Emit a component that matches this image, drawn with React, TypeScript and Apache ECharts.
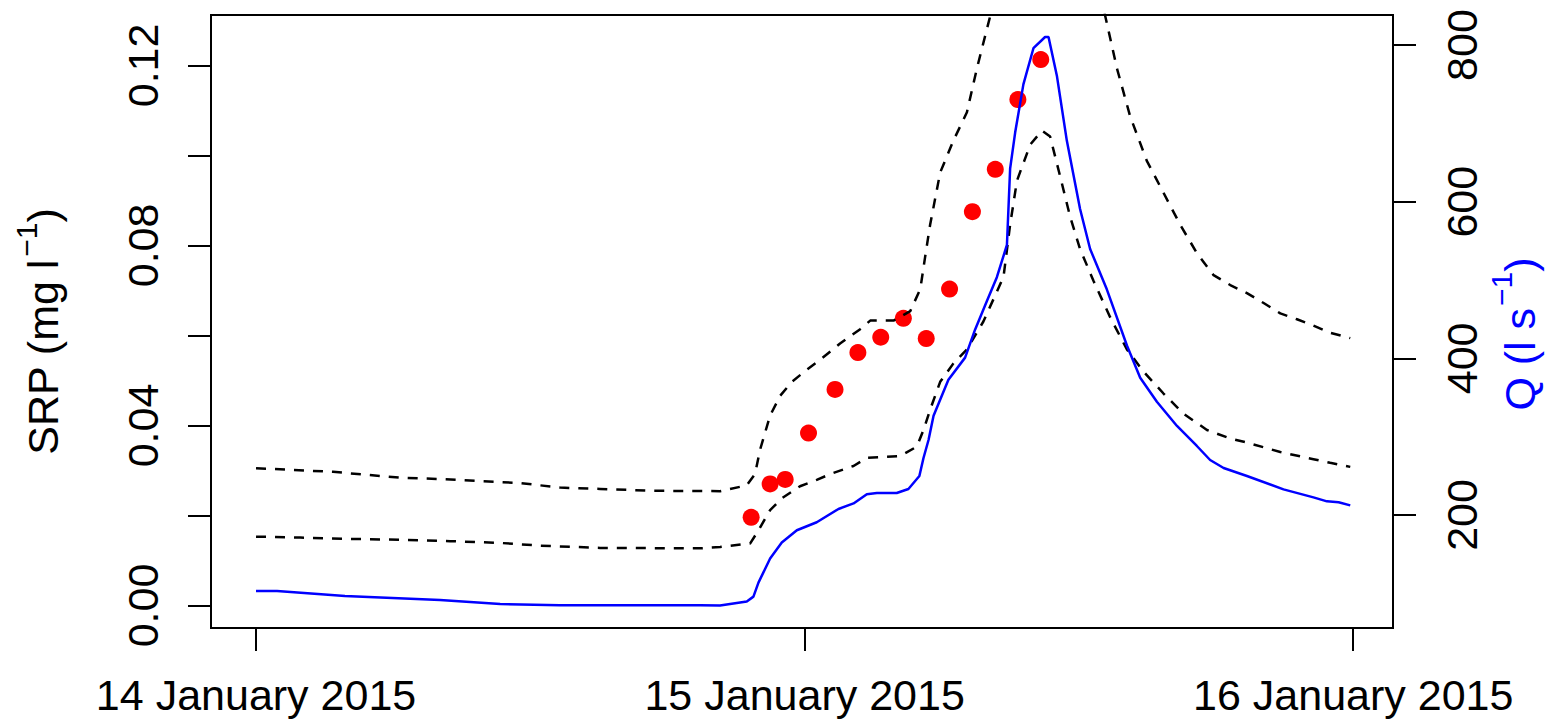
import React, { useEffect, useRef } from "react";
import * as echarts from "echarts";

// Time in hours since 14 January 2015 00:00
const dayLabels = ["14 January 2015", "15 January 2015", "16 January 2015"];
const dayTickHours = [0, 24, 48];

const srpTicks = [0, 0.02, 0.04, 0.06, 0.08, 0.1, 0.12];
const srpLabels = [0, 0.04, 0.08, 0.12];
const qTicks = [200, 400, 600, 800];

// Axis titles: [base text, superscript, closing text]
const srpTitle = ["SRP (mg l", "−1", ")"];
const qTitle = ["Q (l s", "−1", ")"];

// Discharge Q (l s-1), right axis
const qHours = [0, 0.92, 3.89, 8.05, 10.68, 13.3, 19.43, 20.3, 21.47, 21.76, 21.98, 22.49, 23.0, 23.66, 24.53, 25.48, 26.14, 26.72, 27.16, 28.03, 28.54, 29.02, 29.2, 29.42, 29.64, 30.29, 31.02, 31.46, 31.97, 32.41, 32.85, 32.99, 33.21, 33.57, 34.01, 34.52, 34.67, 35.04, 35.47, 36.05, 36.49, 37.22, 38.1, 38.68, 39.41, 40.29, 41.16, 41.74, 42.33, 43.35, 44.95, 46.26, 46.85, 47.36, 47.87];
const qValues = [103.0, 103.0, 96.6, 91.5, 86.4, 84.7, 84.7, 84.5, 89.7, 95.8, 113.7, 144.5, 165.0, 180.5, 190.7, 207.7, 214.8, 226.6, 228.1, 228.1, 233.2, 249.8, 272.8, 295.7, 326.6, 372.7, 400.9, 436.9, 472.8, 503.6, 544.7, 642.1, 688.2, 749.7, 795.9, 810.2, 810.2, 760.0, 678.0, 590.6, 539.6, 488.1, 416.4, 375.3, 344.5, 313.7, 288.1, 270.2, 260.0, 249.8, 232.7, 222.5, 217.4, 216.3, 212.3];

// Upper prediction bound of SRP (mg l-1)
const upperHours = [0, 3.37, 6.3, 8.05, 11.55, 13.3, 15.05, 17.24, 20.3, 21.47, 21.83, 22.05, 22.49, 22.93, 23.44, 24.1, 24.68, 25.55, 26.43, 26.87, 27.89, 28.62, 29.06, 29.27, 29.49, 29.93, 30.51, 31.1, 31.54, 32.12, 32.7, 32.99, 33.29, 33.87, 34.38, 34.74, 35.18, 35.62, 36.05, 36.64, 37.15, 37.66, 38.24, 38.97, 39.7, 40.43, 41.16, 41.89, 42.62, 43.35, 44.08, 44.81, 45.54, 46.26, 46.99, 47.87];
const upperValues = [0.0305, 0.0297, 0.0284, 0.0281, 0.0272, 0.0262, 0.0259, 0.0255, 0.0254, 0.0267, 0.0292, 0.0346, 0.0422, 0.0466, 0.0497, 0.0524, 0.0546, 0.0582, 0.0614, 0.0633, 0.0633, 0.0654, 0.0703, 0.0774, 0.0846, 0.0962, 0.1033, 0.1096, 0.1194, 0.131, 0.146, 0.169, 0.189, 0.205, 0.211, 0.208, 0.19, 0.173, 0.158, 0.144, 0.131, 0.1194, 0.1087, 0.0988, 0.0917, 0.0846, 0.0783, 0.0734, 0.0712, 0.0694, 0.0672, 0.0649, 0.0636, 0.0622, 0.0606, 0.0594];

// Lower prediction bound of SRP (mg l-1)
const lowerHours = [0, 1.93, 4.11, 6.3, 8.49, 10.68, 12.43, 15.05, 19.43, 20.3, 21.62, 21.98, 22.49, 23.0, 23.8, 24.53, 25.12, 26.14, 26.72, 28.18, 28.91, 29.2, 29.49, 29.93, 30.51, 31.1, 31.82, 32.7, 32.99, 33.29, 33.87, 34.38, 34.74, 35.18, 35.62, 36.05, 36.64, 37.37, 38.1, 38.82, 39.7, 40.58, 41.6, 42.62, 43.35, 44.81, 46.26, 46.99, 47.87];
const lowerValues = [0.0153, 0.0151, 0.0148, 0.0146, 0.0143, 0.0139, 0.0133, 0.0128, 0.0127, 0.013, 0.0138, 0.0167, 0.0212, 0.0238, 0.0265, 0.0279, 0.0292, 0.031, 0.0328, 0.0332, 0.0353, 0.039, 0.0435, 0.0497, 0.0538, 0.0569, 0.0631, 0.073, 0.0846, 0.0944, 0.1024, 0.1055, 0.1042, 0.0953, 0.0863, 0.0792, 0.0721, 0.064, 0.0569, 0.052, 0.0471, 0.0426, 0.039, 0.0371, 0.0362, 0.0341, 0.0325, 0.0317, 0.0308];

// Observed SRP (mg l-1)
const obsHours = [21.66, 22.49, 23.15, 24.17, 25.33, 26.33, 27.33, 28.32, 29.32, 30.34, 31.34, 32.34, 33.33, 34.33];
const obsSRP = [0.0196, 0.027, 0.028, 0.0383, 0.048, 0.0562, 0.0596, 0.0638, 0.0593, 0.0703, 0.0875, 0.0969, 0.1124, 0.1213];

const zip = (xs: number[], ys: number[]) => xs.map((x, i) => [x, ys[i]]);

const FONT = "'Liberation Sans', Arial, Helvetica, sans-serif";
const MAIN_SIZE = 43;
const SUP_SIZE = 30;

function measure(text: string, size: number): number {
  const c = document.createElement("canvas");
  const ctx = c.getContext("2d");
  if (!ctx) return text.length * size * 0.55;
  ctx.font = `${size}px ${FONT}`;
  return ctx.measureText(text).width;
}

// Vertical (reading upwards) title with a superscript, centred at (cx, cy)
function verticalTitle(parts: string[], cx: number, cy: number, supShift: number, color: string) {
  const gap = 2;
  const w1 = measure(parts[0], MAIN_SIZE);
  const w2 = measure(parts[1], SUP_SIZE);
  const w3 = measure(parts[2], MAIN_SIZE);
  const total = w1 + gap + w2 + w3;
  const y0 = cy + total / 2;
  const mk = (text: string, size: number, x: number, y: number) => ({
    type: "text",
    x,
    y,
    rotation: Math.PI / 2,
    style: {
      text,
      fontSize: size,
      fontFamily: FONT,
      fill: color,
      align: "left",
      verticalAlign: "middle",
    },
  });
  return [
    mk(parts[0], MAIN_SIZE, cx, y0),
    mk(parts[1], SUP_SIZE, cx - supShift, y0 - w1 - gap),
    mk(parts[2], MAIN_SIZE, cx, y0 - w1 - gap - w2),
  ];
}

export default function App() {
  const ref = useRef<HTMLDivElement>(null);

  useEffect(() => {
    if (!ref.current) return;
    const chart = echarts.init(ref.current, null, { renderer: "svg" });
    const tickStyle = { color: "#000", width: 2 };
    const labelBase = { fontSize: MAIN_SIZE, lineHeight: 43, fontFamily: FONT, color: "#000" };
    chart.setOption({
      animation: false,
      backgroundColor: "#fff",
      grid: {
        left: 211,
        top: 15,
        width: 1182,
        height: 613,
        show: true,
        borderColor: "#000",
        borderWidth: 2,
        backgroundColor: "transparent",
        containLabel: false,
      },
      xAxis: {
        type: "value",
        min: -1.97,
        max: 49.74,
        axisLine: { show: false, onZero: false },
        splitLine: { show: false },
        axisTick: { show: true, inside: false, length: 23, lineStyle: tickStyle, customValues: dayTickHours },
        axisLabel: {
          ...labelBase,
          margin: 45,
          customValues: dayTickHours,
          formatter: (v: number) => dayLabels[Math.round(v / 24)] ?? "",
        },
      },
      yAxis: [
        {
          type: "value",
          position: "left",
          min: -0.005,
          max: 0.1312,
          axisLine: { show: false, onZero: false },
          splitLine: { show: false },
          axisTick: { show: true, inside: false, length: 23, lineStyle: tickStyle, customValues: srpTicks },
          axisLabel: {
            ...labelBase,
            rotate: 90,
            margin: 47,
            customValues: srpLabels,
            formatter: (v: number) => v.toFixed(2),
          },
        },
        {
          type: "value",
          position: "right",
          min: 55.74,
          max: 838.3,
          axisLine: { show: false, onZero: false },
          splitLine: { show: false },
          axisTick: { show: true, inside: false, length: 23, lineStyle: tickStyle, customValues: qTicks },
          axisLabel: {
            ...labelBase,
            rotate: 90,
            margin: 47,
            customValues: qTicks,
            formatter: (v: number) => String(Math.round(v)),
          },
        },
      ],
      graphic: [
        ...verticalTitle(srpTitle, 43.4, 331.5, 17, "#000"),
        ...verticalTitle(qTitle, 1519.5, 334, 18, "#0000FF"),
      ],
      series: [
        {
          type: "line",
          name: "upper",
          yAxisIndex: 0,
          data: zip(upperHours, upperValues),
          showSymbol: false,
          symbol: "none",
          clip: true,
          lineStyle: { color: "#000", width: 2.5, type: [10, 9] },
        },
        {
          type: "line",
          name: "lower",
          yAxisIndex: 0,
          data: zip(lowerHours, lowerValues),
          showSymbol: false,
          symbol: "none",
          clip: true,
          lineStyle: { color: "#000", width: 2.5, type: [10, 9] },
        },
        {
          type: "scatter",
          name: "SRP",
          yAxisIndex: 0,
          data: zip(obsHours, obsSRP),
          symbol: "circle",
          symbolSize: 17,
          itemStyle: { color: "#FF0000", opacity: 1 },
        },
        {
          type: "line",
          name: "Q",
          yAxisIndex: 1,
          data: zip(qHours, qValues),
          showSymbol: false,
          symbol: "none",
          clip: true,
          lineStyle: { color: "#0000FF", width: 2.5 },
        },
      ],
    });
    return () => chart.dispose();
  }, []);

  return (
    <div
      ref={ref}
      style={{ position: "absolute", left: 0, top: 0, width: 1546, height: 722, background: "#fff" }}
    />
  );
}
